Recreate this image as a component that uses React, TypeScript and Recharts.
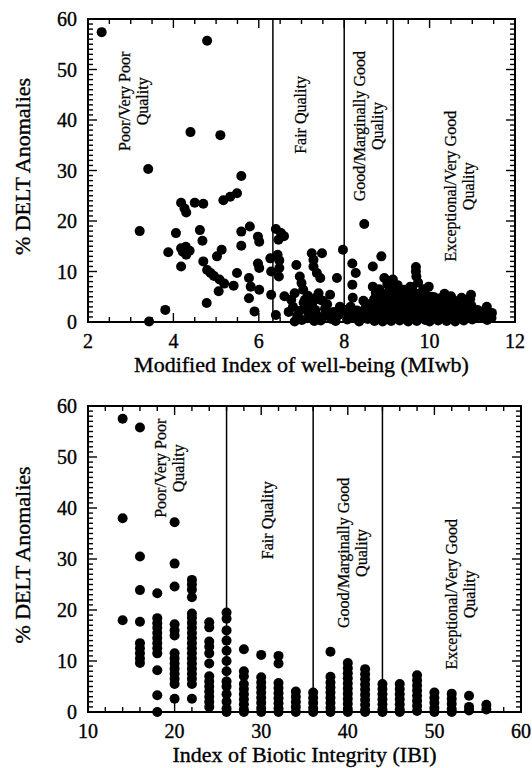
import { ScatterChart, Scatter, XAxis, YAxis, ReferenceLine, ReferenceArea, Label } from 'recharts'

const FONT = "'Liberation Serif', 'Times New Roman', serif"

// ---- panel 1: MIwb vs % DELT ----
const miwbTicks = [2, 4, 6, 8, 10, 12]
const deltTicks = [0, 10, 20, 30, 40, 50, 60]
const miwbBreaks = [6.33, 8.0, 9.15]
const miwbLabels = [
  { x: 3.07, y: 43.7, lines: ['Poor/Very Poor', 'Quality'] },
  { x: 6.99, y: 41.0, lines: ['Fair Quality'] },
  { x: 8.58, y: 38.8, lines: ['Good/Marginally Good', 'Quality'] },
  { x: 10.71, y: 26.9, lines: ['Exceptional/Very Good', 'Quality'] },
]
const miwbPoints: [number, number][] = [
  [2.32, 57.4], [4.79, 55.7], [4.4, 37.6], [5.1, 37.0], [3.41, 30.3], [5.59, 28.9],
  [5.49, 25.5], [5.33, 24.8], [5.17, 24.1], [4.18, 23.6], [4.5, 23.6], [4.7, 23.4],
  [4.26, 22.5], [4.3, 21.7], [3.21, 18.0], [4.62, 18.2], [4.06, 17.6], [3.88, 13.8],
  [4.18, 14.6], [4.29, 14.9], [4.38, 14.1], [4.3, 13.3], [4.22, 13.9], [4.18, 11.0],
  [4.68, 16.1], [4.7, 12.0], [4.79, 10.3], [4.78, 3.75], [3.81, 2.4], [3.43, 0.1],
  [5.02, 13.0], [5.13, 14.3], [4.87, 9.7], [4.95, 9.1], [5.08, 8.4], [5.19, 7.6],
  [5.06, 6.1], [5.41, 7.2], [5.49, 9.7], [5.59, 15.1], [5.59, 17.9], [5.79, 18.9],
  [5.77, 8.7], [5.81, 7.0], [5.77, 4.7], [5.9, 2.1], [6.01, 6.4], [5.98, 11.6],
  [6.01, 10.7], [5.98, 16.9], [6.01, 15.9], [6.27, 12.6], [6.29, 10.0], [6.29, 5.4],
  [6.4, 1.4], [6.4, 18.4], [6.52, 17.6], [6.46, 16.3], [6.59, 17.0], [6.44, 13.3],
  [6.48, 12.2], [6.48, 10.7], [6.47, 9.0], [6.6, 5.1], [6.76, 4.4], [6.84, 5.7],
  [6.84, 0.1], [6.88, 11.3], [6.96, 9.0], [7.0, 7.7], [7.04, 6.4], [7.08, 4.4],
  [7.12, 3.1], [7.16, 1.8], [7.24, 13.6], [7.28, 12.3], [7.28, 11.0], [7.36, 9.7],
  [7.44, 8.7], [7.48, 13.6], [7.4, 5.7], [7.44, 4.4], [7.32, 4.7], [7.32, 2.4],
  [7.52, 1.1], [7.67, 5.4], [7.67, 1.1], [7.83, 8.7], [7.87, 1.4], [7.97, 14.3],
  [8.03, 2.4], [8.07, 0.5], [8.19, 11.6], [8.27, 9.7], [8.19, 7.4], [8.47, 19.4],
  [8.67, 11.0], [8.87, 13.0], [8.67, 7.0], [8.94, 8.7], [9.14, 8.4], [9.46, 6.4],
  [9.3, 5.7], [9.68, 10.9], [9.68, 10.0], [9.69, 9.0], [9.98, 7.0], [9.86, 5.7],
  [10.25, 4.7], [10.5, 5.1], [10.97, 5.4], [10.32, 4.7], [11.34, 3.0],
  // fair, low values
  [6.7, 2.0], [6.9, 1.2], [7.01, 0.4], [7.1, 2.8], [7.2, 0.8], [7.25, 3.6], [7.35, 1.5],
  [7.45, 0.3], [7.55, 2.6], [7.6, 3.5], [7.7, 0.6], [7.75, 2.0], [7.8, 0.2], [7.9, 3.0],
  [6.95, 2.2], [7.05, 3.8], [6.8, 3.0], [7.15, 5.2], [7.3, 0.2], [7.5, 4.2],
  // good / marginally good, low values
  [8.1, 1.6], [8.15, 3.0], [8.25, 0.8], [8.3, 2.3], [8.35, 0.1], [8.4, 1.5], [8.5, 2.8],
  [8.55, 0.6], [8.45, 4.2], [8.2, 4.8], [8.6, 1.9],
  // dense cluster
  [8.71, 0.2], [8.68, 1.5], [8.73, 3.0], [8.7, 4.5], [8.74, 5.8],
  [8.8, 0.8], [8.83, 2.2], [8.79, 3.8], [8.82, 6.5],
  [8.9, 0.1], [8.92, 1.2], [8.88, 2.6], [8.91, 4.2], [8.93, 5.5],
  [9.0, 0.6], [9.03, 1.9], [8.98, 3.2], [9.02, 4.8], [9.01, 7.5],
  [9.1, 0.2], [9.12, 1.4], [9.08, 2.7], [9.11, 4.0], [9.09, 5.8], [9.13, 8.0],
  [9.2, 0.9], [9.22, 2.2], [9.18, 3.5], [9.21, 5.0], [9.19, 6.6],
  [9.3, 0.3], [9.32, 1.6], [9.28, 3.0], [9.31, 4.4],
  [9.4, 1.0], [9.42, 2.4], [9.38, 3.8], [9.41, 5.1], [9.39, 6.4],
  [9.5, 0.1], [9.52, 1.5], [9.48, 2.9], [9.51, 4.3], [9.49, 5.9],
  [9.6, 0.7], [9.62, 2.0], [9.58, 3.4], [9.61, 4.8], [9.59, 6.8],
  [9.7, 0.2], [9.72, 1.3], [9.68, 2.7], [9.71, 4.1], [9.69, 5.6], [9.73, 7.8],
  [9.8, 0.9], [9.82, 2.3], [9.78, 3.6], [9.81, 5.0],
  [9.9, 0.4], [9.92, 1.7], [9.88, 3.1], [9.91, 4.5], [9.89, 6.0],
  [10.0, 0.1], [10.02, 1.2], [9.98, 2.6], [10.01, 3.9],
  [10.1, 0.8], [10.12, 2.1], [10.08, 3.5], [10.11, 4.9],
  [10.2, 0.3], [10.22, 1.6], [10.18, 3.0],
  [10.3, 0.9], [10.32, 2.3], [10.28, 3.8],
  [10.4, 0.2], [10.42, 1.5], [10.38, 2.9], [10.41, 4.3],
  [10.5, 0.7], [10.52, 2.0], [10.48, 3.4],
  [10.6, 0.1], [10.62, 1.3], [10.58, 2.6], [10.61, 4.0],
  [10.7, 0.8], [10.72, 2.2], [10.68, 3.6],
  [10.8, 0.3], [10.82, 1.6], [10.78, 2.9], [10.81, 4.4],
  [10.9, 1.0], [10.92, 2.4], [10.88, 3.8],
  [11.0, 0.5], [11.02, 1.8], [10.98, 3.2],
  [11.25, 1.0], [11.27, 2.0], [11.35, 0.4], [11.37, 1.6], [11.33, 2.6], [11.45, 0.8], [11.46, 1.8],
  [8.62, 3.6], [8.85, 5.0], [9.05, 6.2], [9.25, 7.3], [9.45, 3.3], [9.55, 7.0], [9.65, 5.3],
  [9.85, 6.5], [10.05, 5.0], [10.15, 1.5], [10.35, 5.6], [10.45, 0.9], [10.55, 4.4], [10.65, 3.2],
  [10.75, 4.8], [10.85, 2.1], [10.95, 4.5], [11.08, 0.9], [11.12, 2.4],
]

// ---- panel 2: IBI vs % DELT ----
const ibiTicks = [10, 20, 30, 40, 50, 60]
const ibiBreaks = [26, 36, 44]
const ibiLabels = [
  { x: 19.47, y: 47.8, lines: ['Poor/Very Poor', 'Quality'] },
  { x: 30.8, y: 37.6, lines: ['Fair Quality'] },
  { x: 40.6, y: 31.2, lines: ['Good/Marginally Good', 'Quality'] },
  { x: 53.1, y: 23.1, lines: ['Exceptional/Very Good', 'Quality'] },
]
const ibiScores = [14, 16, 18, 20, 22, 24, 26, 28, 30, 32, 34, 36, 38, 40, 42, 44, 46, 48, 50, 52, 54, 56]
const ibiDelt: number[][] = [
  [57.5, 38, 18],
  [55.8, 30.5, 23.9, 17.7, 13.5, 12.5, 11.5, 10.5, 9.6],
  [23.3, 18.4, 17.4, 16.5, 15.5, 14.5, 13.5, 12.5, 11.5, 8.2, 3.3, 0],
  [37.2, 29.1, 24.6, 17.2, 16.0, 15.0, 11.5, 10.5, 9.5, 8.5, 7.5, 6.5, 5.5, 2.6],
  [25.9, 25, 24, 22.5, 19.3, 18.5, 17.5, 16.5, 15.5, 14.5, 13.5, 12.5, 11.5, 10.5, 9.5, 8.5, 7.5, 6.5, 5.5, 2.6],
  [17.6, 16.6, 13.8, 12.8, 11.5, 9.5, 7.0, 6.0, 5.0, 4.0, 3.0, 2.0, 1.0],
  [19.5, 18.3, 16.0, 14.0, 12.0, 10.0, 8.0, 6.0, 5.0, 3.5, 2.0, 0.7, 0],
  [12.3, 8.0, 7.0, 5.5, 4.5, 3.5, 2.5, 1.5, 0.5, 0],
  [11.2, 6.8, 5.8, 4.8, 3.8, 2.8, 1.8, 0.8, 0],
  [11.0, 9.5, 5.7, 4.7, 3.7, 2.7, 1.7, 0.7, 0],
  [4.0, 3.0, 2.0, 1.0, 0],
  [3.8, 2.8, 1.8, 0.8, 0],
  [11.8, 6.9, 5.8, 4.8, 3.8, 2.8, 1.8, 0.8, 0],
  [9.6, 8.6, 7.6, 6.6, 5.6, 4.6, 3.6, 2.6, 1.6, 0.6, 0],
  [8.4, 7.4, 6.4, 5.4, 4.4, 3.4, 2.4, 1.4, 0.4, 0],
  [5.5, 4.5, 3.5, 2.5, 1.5, 0.5, 0],
  [5.5, 4.5, 3.5, 2.5, 1.5, 0.5, 0],
  [7.2, 6.2, 5.2, 4.2, 3.2, 2.2, 1.2, 0.2],
  [3.8, 2.8, 1.8, 0.8, 0],
  [3.6, 2.6, 1.6, 0.6, 0],
  [3.2, 1.0, 0.3],
  [1.4, 0.5],
]

// minor tick marks
const range = (a: number, b: number, s: number) =>
  Array.from({ length: Math.round((b - a) / s) + 1 }, (_, i) => +(a + i * s).toFixed(2))

interface PanelProps {
  top: number
  right: number
  bottom: number
  left: number
  xDomain: [number, number]
  xMajor: number[]
  xMinor: number[]
  points: { x: number; y: number }[]
  breaks: number[]
  labels: { x: number; y: number; lines: string[] }[]
  xTitle: string
}

const W = 532
const H = 384
const ink = { fill: '#000', stroke: '#000', strokeWidth: 0.35 }

function Panel({ top, right, bottom, left, xDomain, xMajor, xMinor, points, breaks, labels, xTitle }: PanelProps) {
  const plotRight = W - right

  const xTick = (p: any) => {
    const { x, y, payload } = p
    const major = xMajor.includes(payload.value)
    const len = major ? 9 : 5
    return (
      <g>
        <line x1={x} x2={x} y1={y} y2={y - len} stroke="#000" strokeWidth={1.4} />
        <line x1={x} x2={x} y1={top} y2={top + len} stroke="#000" strokeWidth={1.4} />
        {major && (
          <text x={x} y={y + 26} textAnchor="middle" fontFamily={FONT} fontSize={20} {...ink}>
            {payload.value}
          </text>
        )}
      </g>
    )
  }

  const yTick = (p: any) => {
    const { x, y, payload } = p
    const major = deltTicks.includes(payload.value)
    const len = major ? 9 : 5
    return (
      <g>
        <line x1={x} x2={x + len} y1={y} y2={y} stroke="#000" strokeWidth={1.4} />
        <line x1={plotRight} x2={plotRight - len} y1={y} y2={y} stroke="#000" strokeWidth={1.4} />
        {major && (
          <text x={x - 11} y={y + 7} textAnchor="end" fontFamily={FONT} fontSize={20} {...ink}>
            {payload.value}
          </text>
        )}
      </g>
    )
  }

  const regionText = (p: any) => {
    const { cx, cy, payload } = p
    const n = payload.lines.length
    return (
      <text transform={`rotate(-90 ${cx} ${cy})`} textAnchor="middle" fontFamily={FONT} fontSize={16} {...ink} strokeWidth={0.25}>
        {payload.lines.map((l: string, i: number) => (
          <tspan key={i} x={cx} y={cy + (i - (n - 1) / 2) * 18 + 5}>
            {l}
          </tspan>
        ))}
      </text>
    )
  }

  return (
    <ScatterChart width={W} height={H} margin={{ top, right, bottom: 0, left: 0 }}>
      <XAxis
        type="number"
        dataKey="x"
        domain={xDomain}
        ticks={xMinor}
        interval={0}
        height={bottom}
        tickSize={0}
        tickMargin={0}
        tickLine={false}
        axisLine={false}
        tick={xTick}
      >
        <Label
          content={(lp: any) => {
            const vb = lp.viewBox
            return (
              <text x={vb.x + vb.width / 2} y={H - bottom + 50} textAnchor="middle" fontFamily={FONT} fontSize={22} {...ink}>
                {xTitle}
              </text>
            )
          }}
        />
      </XAxis>
      <YAxis
        type="number"
        dataKey="y"
        domain={[0, 60]}
        ticks={range(0, 60, 1)}
        interval={0}
        width={left}
        tickSize={0}
        tickMargin={0}
        tickLine={false}
        axisLine={false}
        tick={yTick}
      >
        <Label
          content={(lp: any) => {
            const vb = lp.viewBox
            const cy = vb.y + vb.height / 2 - 4
            return (
              <text x={30} y={cy} transform={`rotate(-90 30 ${cy})`} textAnchor="middle" fontFamily={FONT} fontSize={22} {...ink}>
                % DELT Anomalies
              </text>
            )
          }}
        />
      </YAxis>
      <ReferenceArea x1={xDomain[0]} x2={xDomain[1]} y1={0} y2={60} fill="none" stroke="#000" strokeWidth={2} fillOpacity={0} />
      {breaks.map((b) => (
        <ReferenceLine key={b} x={b} stroke="#000" strokeWidth={1.5} />
      ))}
      <Scatter data={labels} shape={regionText} isAnimationActive={false} />
      <Scatter
        data={points}
        isAnimationActive={false}
        shape={(p: any) => <circle cx={p.cx} cy={p.cy} r={5} fill="#000" />}
      />
    </ScatterChart>
  )
}

export default function App() {
  const miwbData = miwbPoints.map(([x, y]) => ({ x, y }))
  const ibiData = ibiScores.flatMap((s, i) => ibiDelt[i].map((d) => ({ x: s, y: d })))
  return (
    <div style={{ position: 'absolute', left: 0, top: 0, width: W, height: 768, background: '#fff' }}>
      <Panel
        top={19}
        right={17}
        bottom={62}
        left={88}
        xDomain={[2, 12]}
        xMajor={miwbTicks}
        xMinor={range(2, 12, 0.5)}
        points={miwbData}
        breaks={miwbBreaks}
        labels={miwbLabels}
        xTitle="Modified Index of well-being (MIwb)"
      />
      <Panel
        top={22}
        right={11}
        bottom={56}
        left={88}
        xDomain={[10, 60]}
        xMajor={ibiTicks}
        xMinor={range(10, 60, 2)}
        points={ibiData}
        breaks={ibiBreaks}
        labels={ibiLabels}
        xTitle="Index of Biotic Integrity (IBI)"
      />
    </div>
  )
}
